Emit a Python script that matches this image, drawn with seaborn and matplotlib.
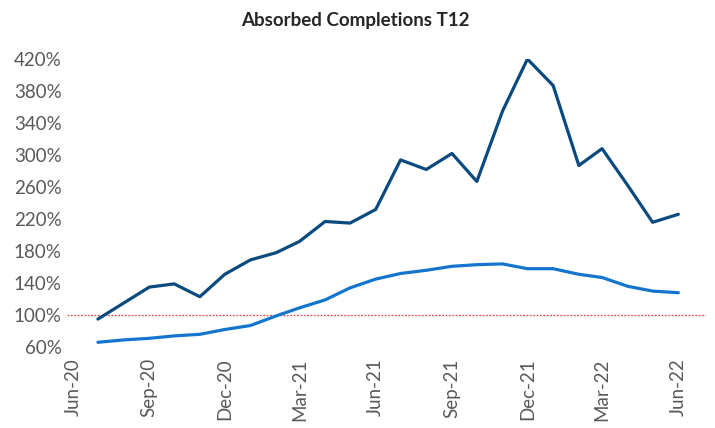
import pandas as pd
import seaborn as sns
import matplotlib.pyplot as plt
import matplotlib.dates as mdates
from matplotlib.ticker import FuncFormatter

# monthly T12 values, Jul-20 .. Jun-22 (percent)
months = pd.date_range("2020-07-01", "2022-06-01", freq="MS")
series_a = [95, 115, 135, 139, 123, 151, 169, 178, 192, 217, 215, 232,
            294, 282, 302, 267, 355, 420, 387, 287, 308, 262, 216, 226]
series_b = [66, 69, 71, 74, 76, 82, 87, 99, 109, 119, 134, 145,
            152, 156, 161, 163, 164, 158, 158, 151, 147, 136, 130, 128]
tick_dates = pd.date_range("2020-06-01", "2022-06-01", freq="3MS")
y_ticks = list(range(60, 421, 40))

df = pd.DataFrame({"month": list(months) * 2,
                   "value": series_a + series_b,
                   "series": ["A"] * len(series_a) + ["B"] * len(series_b)})

sns.set_style("white")
plt.rcParams["font.family"] = ["Lato", "DejaVu Sans"]

fig = plt.figure(figsize=(7.15, 4.28), dpi=100)
ax = fig.add_axes([0.094, 0.189, 0.893, 0.673])

ax.axhline(100, color="#E04848", lw=0.9, ls=(0, (1.5, 1.2)), zorder=1)
sns.lineplot(data=df, x="month", y="value", hue="series",
             palette={"A": "#0B4A7E", "B": "#1475CF"}, linewidth=2.3,
             legend=False, ax=ax, zorder=3)

ax.set_ylim(60, 420)
ax.set_yticks(y_ticks)
ax.yaxis.set_major_formatter(FuncFormatter(lambda v, p: f"{v:.0f}%"))
ax.set_xticks(tick_dates)
ax.xaxis.set_major_formatter(mdates.DateFormatter("%b-%y"))
ax.set_xlim(pd.Timestamp("2020-05-25"), pd.Timestamp("2022-07-04"))
ax.tick_params(axis="x", rotation=90, labelsize=13.5, colors="#595959", length=0, pad=8)
ax.tick_params(axis="y", labelsize=13.5, colors="#595959", length=0, pad=4)
ax.set_xlabel("")
ax.set_ylabel("")
sns.despine(ax=ax, left=True, bottom=True)

fig.text(0.497, 0.953, "Absorbed Completions T12", ha="center", va="center",
         fontsize=13.5, fontweight="bold", color="#262626")

fig.savefig("out.png", dpi=100)
